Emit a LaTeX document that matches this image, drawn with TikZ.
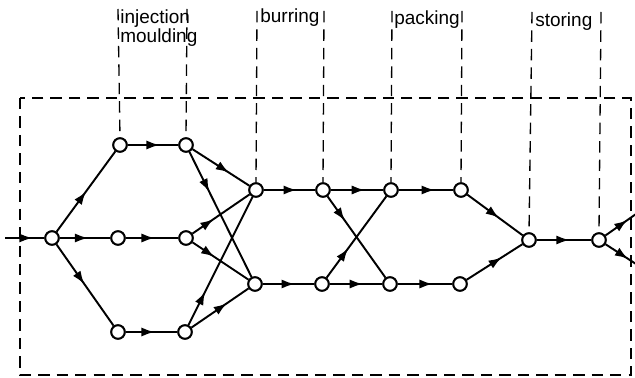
\documentclass[tikz,border=0pt]{standalone}
\usepackage{fontspec}
\newfontfamily\stagefont{Liberation Sans}
\usetikzlibrary{arrows.meta,decorations.markings}

\tikzset{
	station/.style={circle, draw, line width=1.1pt, fill=white, minimum size=0.27cm, inner sep=0pt},
	flow/.style={line width=1.1pt, postaction={decorate},
		decoration={markings, mark=at position #1 with {\arrow{Latex[length=7.5pt,width=5.2pt]}}}},
	flow/.default=0.6,
	limit/.style={line width=0.75pt, dash pattern=on 6.5pt off 4pt},
	stage/.style={font=\stagefont\fontsize{10.8}{8.5}\selectfont, inner sep=0pt, align=left}
}

\begin{document}
\begin{tikzpicture}[x=0.02cm, y=-0.02cm]
	
	\useasboundingbox (0,0) rectangle (635,378);
	\draw[limit] (20,98) rectangle (631,375);
	
	% stations
	\node[station] (s) at (52,238) {};
	\node[station] (t1) at (120,145) {};
	\node[station] (t2) at (186,145) {};
	\node[station] (m1) at (118,238) {};
	\node[station] (m2) at (186,238) {};
	\node[station] (b1) at (118,332) {};
	\node[station] (b2) at (185,332) {};
	\node[station] (u1) at (256,190) {};
	\node[station] (l1) at (255,284) {};
	\node[station] (u2) at (323,190) {};
	\node[station] (l2) at (322,284) {};
	\node[station] (u3) at (391,190) {};
	\node[station] (l3) at (390,284) {};
	\node[station] (u4) at (461,190) {};
	\node[station] (l4) at (460,284) {};
	\node[station] (j) at (529,240) {};
	\node[station] (o) at (599,240) {};
	\coordinate (in) at (5,238);
	\coordinate (out1) at (636,214);
	\coordinate (out2) at (636,264);
	
	% stage labels
	\node[stage, anchor=north west] (inj) at (120,9) {injection\\moulding};
	\node[stage, anchor=base west] (bur) at (260,23) {burring};
	\node[stage, anchor=base west] (pac) at (394,25) {packing};
	\node[stage, anchor=base west] (sto) at (535,27) {storing};
	\coordinate (k1) at (118,9);
	\coordinate (k2) at (187,9);
	\coordinate (k3) at (257,11);
	\coordinate (k4) at (324,11);
	\coordinate (k5) at (392,11);
	\coordinate (k6) at (462,11);
	\coordinate (k7) at (532,12);
	\coordinate (k8) at (601,12);
	\draw[limit] (k1) -- (t1.north);
	\draw[limit] (k2) -- (t2.north);
	\draw[limit] (k3) -- (u1.north);
	\draw[limit] (k4) -- (u2.north);
	\draw[limit] (k5) -- (u3.north);
	\draw[limit] (k6) -- (u4.north);
	\draw[limit] (k7) -- (j.north);
	\draw[limit] (k8) -- (o.north);
	
	% flow
	\draw[flow=0.7] (in) -- (s);
	\draw[flow=0.5] (s) -- (t1);
	\draw[flow=0.56] (s) -- (m1);
	\draw[flow=0.49] (s) -- (b1);
	\draw[flow=0.63] (t1) -- (t2);
	\draw[flow=0.55] (m1) -- (m2);
	\draw[flow=0.56] (b1) -- (b2);
	\draw[flow=0.64] (t2) -- (u1);
	\draw[flow=0.32] (t2) -- (l1);
	\draw[flow=0.37] (m2) -- (u1);
	\draw[flow=0.39] (m2) -- (l1);
	\draw[flow=0.26] (b2) -- (u1);
	\draw[flow=0.62] (b2) -- (l1);
	\draw[flow=0.64] (u1) -- (u2);
	\draw[flow=0.62] (l1) -- (l2);
	\draw[flow=0.3] (u2) -- (l3);
	\draw[flow=0.36] (l2) -- (u3);
	\draw[flow=0.65] (u2) -- (u3);
	\draw[flow=0.63] (l2) -- (l3);
	\draw[flow=0.66] (u3) -- (u4);
	\draw[flow=0.64] (l3) -- (l4);
	\draw[flow=0.57] (u4) -- (j);
	\draw[flow=0.63] (l4) -- (j);
	\draw[flow=0.6] (j) -- (o);
	\draw[flow=0.72] (o) -- (out1);
	\draw[flow=0.74] (o) -- (out2);
	
	% redraw stations over the lines
	\foreach \n in {s,t1,t2,m1,m2,b1,b2,u1,l1,u2,l2,u3,l3,u4,l4,j,o}
		\node[station] at (\n) {};
	
\end{tikzpicture}
\end{document}
